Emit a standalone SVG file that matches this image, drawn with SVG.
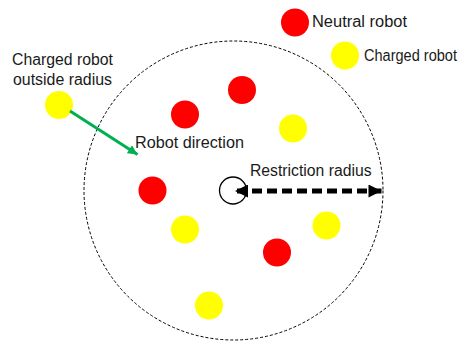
<svg xmlns="http://www.w3.org/2000/svg" width="465" height="341" viewBox="0 0 465 341">
<style>
text{font-family:"Liberation Sans",Arial,sans-serif;font-size:16px;fill:#1a1a1a}
.red{fill:#ff0000}
.yel{fill:#ffff00}
</style>
<defs>
<marker id="ah" viewBox="0 0 10 10" refX="10" refY="5" markerWidth="2.8" markerHeight="2.6" orient="auto-start-reverse" markerUnits="strokeWidth">
<path d="M0,0 L10,5 L0,10 z" fill="#000"/>
</marker>
<marker id="gh" viewBox="0 0 10 10" refX="10" refY="5" markerWidth="3.5" markerHeight="3.2" orient="auto" markerUnits="strokeWidth">
<path d="M0,0 L10,5 L0,10 z" fill="#00b050"/>
</marker>
</defs>
<rect width="465" height="341" fill="#fff"/>
<g id="boundary">
<circle cx="233.5" cy="190.5" r="149.5" fill="none" stroke="#000" stroke-width="1" stroke-dasharray="3,2"/>
</g>
<g id="center">
<circle cx="233" cy="190.5" r="13.5" fill="#fff" stroke="#000" stroke-width="1.3"/>
</g>
<g id="robots">
<circle id="legend-neutral" class="red" cx="295" cy="22.5" r="14"/>
<circle id="legend-charged" class="yel" cx="345" cy="55.5" r="14"/>
<circle id="outside-charged" class="yel" cx="59" cy="105" r="14"/>
<circle class="red" cx="242" cy="90" r="14"/>
<circle class="yel" cx="293" cy="128.5" r="14"/>
<circle class="red" cx="185" cy="114.5" r="14"/>
<circle class="red" cx="152.5" cy="190.5" r="14"/>
<circle class="yel" cx="185" cy="229.5" r="14"/>
<circle class="yel" cx="209" cy="305.5" r="14"/>
<circle class="yel" cx="326.5" cy="225.5" r="14"/>
<circle class="red" cx="277" cy="252.5" r="14"/>
</g>
<g id="connectors">
<line x1="70" y1="111" x2="137.5" y2="154.5" stroke="#00b050" stroke-width="3" marker-end="url(#gh)"/>
<line x1="235" y1="191" x2="381.5" y2="191" stroke="#000" stroke-width="5" stroke-dasharray="10,5" stroke-dashoffset="-2" marker-start="url(#ah)" marker-end="url(#ah)"/>
</g>
<g id="labels">
<text x="312" y="27" textLength="95" lengthAdjust="spacingAndGlyphs">Neutral robot</text>
<text x="364" y="61" textLength="93" lengthAdjust="spacingAndGlyphs">Charged robot</text>
<text x="12" y="65" textLength="101" lengthAdjust="spacingAndGlyphs">Charged robot</text>
<text x="13" y="85" textLength="99" lengthAdjust="spacingAndGlyphs">outside radius</text>
<text x="135" y="148" textLength="109" lengthAdjust="spacingAndGlyphs">Robot direction</text>
<text x="250" y="176" textLength="121.5" lengthAdjust="spacingAndGlyphs">Restriction radius</text>
</g>
</svg>
